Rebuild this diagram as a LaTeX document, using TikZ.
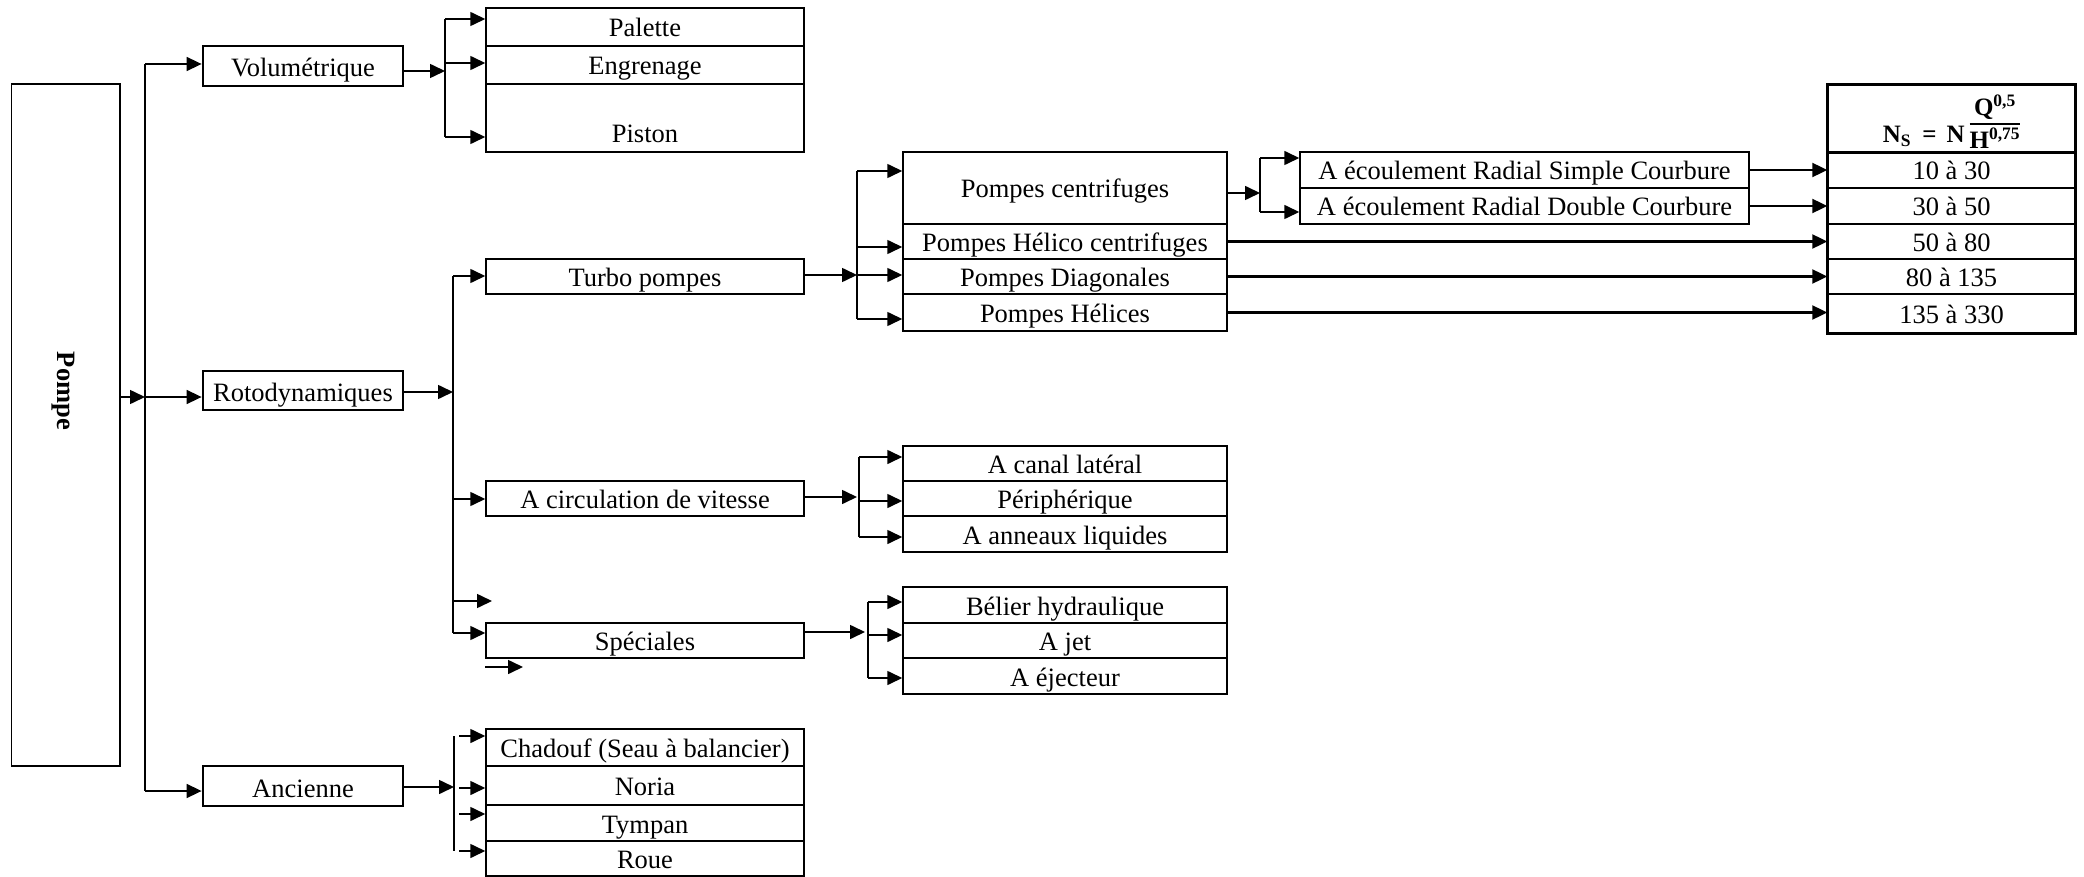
\documentclass[tikz,border=0pt]{standalone}
\usepackage{fontspec}
\setmainfont{Liberation Serif}
\usetikzlibrary{arrows.meta, positioning, calc}

\newsavebox{\nsbox}
\newsavebox{\denbox}

\tikzset{
  cell/.style={draw, line width=1.5pt, inner sep=0pt, minimum height=35pt, text height=24pt, text depth=4pt},
  cellB/.style={cell, minimum width=318pt},
  cellC/.style={cell, minimum width=324pt},
  cellD/.style={cell, minimum width=449pt},
  cellE/.style={cell, minimum width=247pt},
  headcell/.style={draw, line width=1.5pt, inner sep=0pt, minimum width=247pt, minimum height=67pt},
  mainbox/.style={draw, line width=2.8pt, inner sep=0pt, minimum width=200pt, minimum height=40pt, text height=24pt, text depth=2pt},
  arr/.style={line width=1.6pt, -{Triangle[length=15pt, width=14pt]}},
  longarr/.style={arr, line width=2.3pt},
  bus/.style={line width=1.6pt},
}

\begin{document}
\sbox{\nsbox}{\fontsize{25}{29}\selectfont\bfseries
  \sbox{\denbox}{H\textsuperscript{0,75}}%
  N\textsubscript{S}\hspace{0.45em}=\hspace{0.4em}N\hspace{0.2em}%
  \rlap{\raisebox{27pt}{\makebox[\wd\denbox]{Q\textsuperscript{0,5}}}}%
  \rlap{\raisebox{18.2pt}{\rule{\wd\denbox}{1.6pt}}}%
  \raisebox{-6pt}{\usebox{\denbox}}}%
\begin{tikzpicture}[x=1pt, y=-1pt, font=\fontsize{26.5}{30}\selectfont]
  \useasboundingbox (0,0) rectangle (2084,877);

  % Pompe (left column)
  \node[draw, line width=1.5pt, minimum width=108.5pt, minimum height=682pt] (pompe) at (65.75,425) {};
  \node[font=\fontsize{26.5}{30}\selectfont\bfseries, rotate=-90] (pompetxt) at (63,391) {Pompe};

  % Main families
  \node[mainbox] (vol) at (303,66) {Volumétrique};
  \node[mainbox, minimum height=39pt] (roto) at (303,390.5) {Rotodynamiques};
  \node[mainbox] (anc) at (303,786) {Ancienne};

  % Volumetrique table
  \node[cellB, minimum height=38pt] (palette) at (645,27) {Palette};
  \node[cellB, minimum height=38pt] (engr) at (645,65) {Engrenage};
  \node[cellB, minimum height=68pt, text height=50pt, text depth=0pt] (piston) at (645,118) {Piston};

  % Rotodynamiques sub-families
  \node[cellB] (turbo) at (645,276.5) {Turbo pompes};
  \node[cellB] (circ) at (645,498.5) {A circulation de vitesse};
  \node[cellB] (spec) at (645,640.5) {Spéciales};

  % Ancienne table
  \node[cellB, minimum height=37pt] (chadouf) at (645,747.5) {Chadouf (Seau à balancier)};
  \node[cellB, minimum height=39pt] (noria) at (645,785.5) {Noria};
  \node[cellB, minimum height=36pt] (tympan) at (645,823) {Tympan};
  \node[cellB] (roue) at (645,858.5) {Roue};

  % Turbo pompes table
  \node[cellC, minimum height=72pt] (centri) at (1065,188) {Pompes centrifuges};
  \node[cellC] (helico) at (1065,241.5) {Pompes Hélico centrifuges};
  \node[cellC] (diag) at (1065,276.5) {Pompes Diagonales};
  \node[cellC, minimum height=37pt] (helices) at (1065,312.5) {Pompes Hélices};

  % Circulation de vitesse table
  \node[cellC] (canal) at (1065,463.5) {A canal latéral};
  \node[cellC] (periph) at (1065,498.5) {Périphérique};
  \node[cellC, minimum height=36pt] (anneaux) at (1065,534) {A anneaux liquides};

  % Speciales table
  \node[cellC, minimum height=36pt] (belier) at (1065,605) {Bélier hydraulique};
  \node[cellC] (jet) at (1065,640.5) {A jet};
  \node[cellC, minimum height=36pt] (ejecteur) at (1065,676) {A éjecteur};

  % Centrifuges table
  \node[cellD, minimum height=36pt] (simple) at (1524.5,170) {A écoulement Radial Simple Courbure};
  \node[cellD, minimum height=36pt] (dbl) at (1524.5,206) {A écoulement Radial Double Courbure};

  % Ns table
  \node[headcell] (nsh) at (1951.5,118.5) {\raisebox{-24.5pt}[0pt][0pt]{\usebox{\nsbox}}};
  \node[cellE, minimum height=36pt] (ns1) at (1951.5,170) {10 à 30};
  \node[cellE, minimum height=36pt] (ns2) at (1951.5,206) {30 à 50};
  \node[cellE] (ns3) at (1951.5,241.5) {50 à 80};
  \node[cellE] (ns4) at (1951.5,276.5) {80 à 135};
  \node[cellE, minimum height=39pt] (ns5) at (1951.5,313.5) {135 à 330};
  \draw[line width=2.8pt] (nsh.north west) rectangle (ns5.south east);
  \draw[line width=2.8pt] (nsh.south west) -- (nsh.south east);

  % Main bus
  \coordinate (m1) at (145,64);
  \coordinate (m2) at (145,397);
  \coordinate (m3) at (145,791);
  \draw[bus] (m1) -- (m3);
  \draw[arr] (pompe.east |- m2) -- (m2);
  \draw[arr] (m2) -- (m2 -| roto.west);
  \draw[arr] (m1) -- (m1 -| vol.west);
  \draw[arr] (m3) -- (m3 -| anc.west);

  % Volumetrique branch
  \coordinate (v0) at (445,71);
  \draw[arr] (vol.east |- v0) -- (v0);
  \coordinate (v1) at (445,19);
  \coordinate (v2) at (445,63);
  \coordinate (v3) at (445,137);
  \draw[bus] (v1) -- (v3);
  \foreach \p/\q in {v1/palette, v2/engr, v3/piston}
    \draw[arr] (\p) -- (\p -| \q.west);

  % Rotodynamiques branch
  \coordinate (r0) at (453,392);
  \draw[arr] (roto.east |- r0) -- (r0);
  \coordinate (r1) at (453,276);
  \coordinate (r2) at (453,499);
  \coordinate (r3) at (453,601);
  \coordinate (r4) at (453,633);
  \coordinate (r3end) at (492,601);
  \draw[bus] (r1) -- (r4);
  \foreach \p/\q in {r1/turbo, r2/circ, r4/spec}
    \draw[arr] (\p) -- (\p -| \q.west);
  \draw[arr] (r3) -- (r3end);
  \coordinate (d1) at (485,667);
  \coordinate (d2) at (523,667);
  \draw[arr] (d1) -- (d2);

  % Ancienne branch
  \coordinate (a0) at (454,787);
  \draw[arr] (anc.east |- a0) -- (a0);
  \coordinate (a1) at (454,736);
  \coordinate (a2) at (454,788);
  \coordinate (a3) at (454,814);
  \coordinate (a4) at (454,851);
  \draw[bus] (a1) -- (a4);
  \foreach \p/\q in {a1/chadouf, a2/noria, a3/tympan, a4/roue}
    \draw[arr] ([xshift=5pt]\p) -- (\p -| \q.west);

  % Turbo pompes branch
  \coordinate (t0) at (857,275);
  \draw[arr] (turbo.east |- t0) -- (t0);
  \coordinate (t1) at (857,171);
  \coordinate (t2) at (857,247);
  \coordinate (t3) at (857,275);
  \coordinate (t4) at (857,319);
  \draw[bus] (t1) -- (t4);
  \foreach \p/\q in {t1/centri, t2/helico, t3/diag, t4/helices}
    \draw[arr] (\p) -- (\p -| \q.west);

  % Centrifuges branch
  \coordinate (c0) at (1260,193);
  \draw[arr] (centri.east |- c0) -- (c0);
  \coordinate (c1) at (1260,158);
  \coordinate (c2) at (1260,212);
  \draw[bus] (c1) -- (c2);
  \draw[arr] (c1) -- (c1 -| simple.west);
  \draw[arr] (c2) -- (c2 -| dbl.west);

  % Towards Ns
  \draw[longarr] (simple.east) -- (simple.east -| ns1.west);
  \draw[longarr] (dbl.east) -- (dbl.east -| ns2.west);
  \draw[longarr] (helico.east) -- (helico.east -| ns3.west);
  \draw[longarr] (diag.east) -- (diag.east -| ns4.west);
  \draw[longarr] (helices.east) -- (helices.east -| ns5.west);

  % Circulation de vitesse branch
  \coordinate (k0) at (857,497);
  \draw[arr] (circ.east |- k0) -- (k0);
  \coordinate (k1) at (859,457);
  \coordinate (k2) at (859,501);
  \coordinate (k3) at (859,537);
  \draw[bus] (k1) -- (k3);
  \foreach \p/\q in {k1/canal, k2/periph, k3/anneaux}
    \draw[arr] (\p) -- (\p -| \q.west);

  % Speciales branch
  \coordinate (s0) at (865,632);
  \draw[arr] (spec.east |- s0) -- (s0);
  \coordinate (s1) at (868,602);
  \coordinate (s2) at (868,635);
  \coordinate (s3) at (868,678);
  \draw[bus] (s1) -- (s3);
  \foreach \p/\q in {s1/belier, s2/jet, s3/ejecteur}
    \draw[arr] (\p) -- (\p -| \q.west);
\end{tikzpicture}
\end{document}
